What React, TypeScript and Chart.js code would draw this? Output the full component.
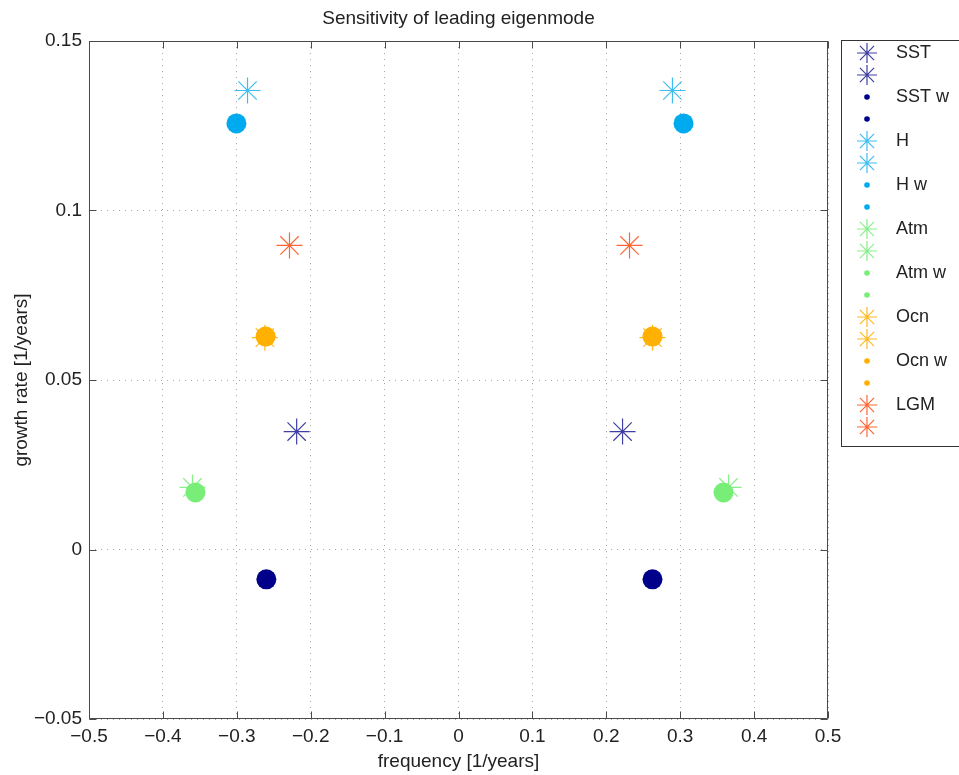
import React, { useEffect, useRef } from 'react';
import { Chart, registerables } from 'chart.js';

Chart.register(...registerables);

const chartTitle = 'Sensitivity of leading eigenmode';
const xAxisTitle = 'frequency [1/years]';
const yAxisTitle = 'growth rate [1/years]';

const seriesLabels = ['SST', 'SST w', 'H', 'H w', 'Atm', 'Atm w', 'Ocn', 'Ocn w', 'LGM'];
const seriesMarkers = ['star', 'circle', 'star', 'circle', 'star', 'circle', 'star', 'circle', 'star'];
const seriesColors = ['#3f3fa3', '#00008a', '#3dbdf2', '#00aaef', '#88ef88', '#78ee78', '#ffb81f', '#ffb000', '#ff6633'];

// negative-frequency member of each eigenvalue pair
const freqNeg = [-0.219, -0.26, -0.2855, -0.3005, -0.36, -0.356, -0.262, -0.261, -0.2287];
const growthNeg = [0.0348, -0.0088, 0.1354, 0.1257, 0.0183, 0.0168, 0.0625, 0.0628, 0.0897];
// positive-frequency member of each eigenvalue pair
const freqPos = [0.222, 0.2625, 0.2895, 0.3045, 0.3654, 0.3586, 0.2625, 0.2625, 0.2314];
const growthPos = [0.0348, -0.0088, 0.1354, 0.1257, 0.0183, 0.0168, 0.0625, 0.0628, 0.0897];

const xTickValues = [-0.5, -0.4, -0.3, -0.2, -0.1, 0, 0.1, 0.2, 0.3, 0.4, 0.5];
const xTickLabels = ['\u22120.5', '\u22120.4', '\u22120.3', '\u22120.2', '\u22120.1', '0', '0.1', '0.2', '0.3', '0.4', '0.5'];
const yTickValues = [-0.05, 0, 0.05, 0.1, 0.15];
const yTickLabels = ['\u22120.05', '0', '0.05', '0.1', '0.15'];

const FONT = "'Liberation Sans', Arial, Helvetica, sans-serif";
const TEXT = '#222';

function drawMarker(ctx: CanvasRenderingContext2D, style: string, color: string, x: number, y: number, r: number) {
  ctx.save();
  if (style === 'star') {
    ctx.strokeStyle = color;
    ctx.lineWidth = 1.2;
    ctx.beginPath();
    for (let k = 0; k < 4; k++) {
      const a = (k * Math.PI) / 4;
      ctx.moveTo(x - Math.cos(a) * r, y - Math.sin(a) * r);
      ctx.lineTo(x + Math.cos(a) * r, y + Math.sin(a) * r);
    }
    ctx.stroke();
  } else {
    ctx.fillStyle = color;
    ctx.beginPath();
    ctx.arc(x, y, r, 0, Math.PI * 2);
    ctx.fill();
  }
  ctx.restore();
}

const framePlugin = {
  id: 'frameTicks',
  afterDraw(chart: any) {
    const { ctx, chartArea } = chart;
    const { left, right, top, bottom } = chartArea;
    const xs = chart.scales.x;
    const ys = chart.scales.y;
    ctx.save();
    ctx.strokeStyle = '#4a4a4a';
    ctx.lineWidth = 1;
    const L = Math.round(left) + 0.5;
    const R = Math.round(right) - 0.5;
    const T = Math.round(top) + 0.5;
    const B = Math.round(bottom) - 0.5;
    ctx.beginPath();
    ctx.rect(L, T, R - L, B - T);
    ctx.stroke();
    const tl = 7;
    ctx.beginPath();
    xTickValues.forEach((v) => {
      const px = Math.round(xs.getPixelForValue(v)) + 0.5;
      ctx.moveTo(px, B);
      ctx.lineTo(px, B - tl);
      ctx.moveTo(px, T);
      ctx.lineTo(px, T + tl);
    });
    yTickValues.forEach((v) => {
      const py = Math.round(ys.getPixelForValue(v)) + 0.5;
      ctx.moveTo(L, py);
      ctx.lineTo(L + tl, py);
      ctx.moveTo(R, py);
      ctx.lineTo(R - tl, py);
    });
    ctx.stroke();

    // legend
    const boxL = 841.5;
    const boxT = 40.5;
    const boxW = 140;
    const boxH = 406;
    ctx.fillStyle = '#fff';
    ctx.fillRect(boxL, boxT, boxW, boxH);
    ctx.strokeStyle = '#333';
    ctx.strokeRect(boxL, boxT, boxW, boxH);
    ctx.font = `18px ${FONT}`;
    ctx.textBaseline = 'middle';
    ctx.textAlign = 'left';
    ctx.fillStyle = TEXT;
    chart.data.datasets.forEach((ds: any, i: number) => {
      const rowY = 53 + 22 * i;
      const si = Math.floor(i / 2);
      const style = seriesMarkers[si];
      drawMarker(ctx, style, seriesColors[si], 867, rowY, style === 'star' ? 10 : 2.8);
      if (ds.label) {
        ctx.fillStyle = TEXT;
        ctx.fillText(ds.label, 896, rowY);
      }
    });
    ctx.restore();
  },
};

export default function App() {
  const canvasRef = useRef<HTMLCanvasElement | null>(null);

  useEffect(() => {
    const canvas = canvasRef.current;
    if (!canvas) return;
    const datasets: any[] = [];
    seriesLabels.forEach((label, i) => {
      const style = seriesMarkers[i];
      const common = {
        showLine: false,
        pointStyle: style,
        pointRadius: style === 'star' ? 13 : 10,
        pointHoverRadius: style === 'star' ? 13 : 10,
        borderColor: seriesColors[i],
        backgroundColor: seriesColors[i],
        pointBorderColor: seriesColors[i],
        pointBackgroundColor: seriesColors[i],
        pointBorderWidth: style === 'star' ? 1.2 : 0,
      };
      datasets.push({ ...common, label, data: [{ x: freqNeg[i], y: growthNeg[i] }] });
      datasets.push({ ...common, label: '', data: [{ x: freqPos[i], y: growthPos[i] }] });
    });
    datasets.forEach((d, idx) => (d.order = -idx));

    const chart = new Chart(canvas, {
      type: 'scatter',
      data: { datasets },
      options: {
        animation: false,
        responsive: true,
        maintainAspectRatio: false,
        layout: { padding: { left: 0, right: 42, top: 0, bottom: 0 } },
        plugins: {
          legend: { display: false },
          tooltip: { enabled: false },
          title: {
            display: true,
            text: chartTitle,
            color: TEXT,
            font: { family: FONT, size: 19, weight: 'normal' },
            padding: { top: 7, bottom: 11.2 },
          },
        },
        scales: {
          x: {
            type: 'linear',
            min: -0.5,
            max: 0.5,
            afterBuildTicks: (scale: any) => {
              scale.ticks = xTickValues.map((v) => ({ value: v }));
            },
            afterFit: (scale: any) => {
              scale.height = 56;
            },
            ticks: {
              padding: 6,
              color: TEXT,
              font: { family: FONT, size: 19 },
              maxRotation: 0,
              autoSkip: false,
              callback: (v: any) => {
                const k = xTickValues.findIndex((t) => Math.abs(t - v) < 1e-9);
                return k >= 0 ? xTickLabels[k] : '';
              },
            },
            grid: { color: '#a8a8a8', lineWidth: 1, drawTicks: false },
            border: { display: false, dash: [1, 5] },
            title: {
              display: true,
              text: xAxisTitle,
              color: TEXT,
              font: { family: FONT, size: 19 },
              padding: { top: 0, bottom: 2 },
            },
          },
          y: {
            type: 'linear',
            min: -0.05,
            max: 0.15,
            afterBuildTicks: (scale: any) => {
              scale.ticks = yTickValues.map((v) => ({ value: v }));
            },
            afterFit: (scale: any) => {
              scale.width = 89;
            },
            ticks: {
              padding: 7,
              color: TEXT,
              font: { family: FONT, size: 19 },
              autoSkip: false,
              callback: (v: any) => {
                const k = yTickValues.findIndex((t) => Math.abs(t - v) < 1e-9);
                return k >= 0 ? yTickLabels[k] : '';
              },
            },
            grid: { color: '#a8a8a8', lineWidth: 1, drawTicks: false },
            border: { display: false, dash: [1, 5] },
            title: {
              display: true,
              text: yAxisTitle,
              color: TEXT,
              font: { family: FONT, size: 19 },
              padding: { top: 10, bottom: 0 },
            },
          },
          // empty right-hand band that holds the legend (keeps the title centred on the plot)
          yLegendSpace: {
            type: 'linear',
            position: 'right',
            min: -0.05,
            max: 0.15,
            display: true,
            grid: { display: false },
            border: { display: false },
            ticks: { display: false },
            afterFit: (scale: any) => {
              scale.width = 89;
            },
          },
        },
      } as any,
      plugins: [framePlugin],
    });
    return () => chart.destroy();
  }, []);

  return (
    <div style={{ position: 'absolute', left: 0, top: 0, width: 959, height: 775, background: '#fff' }}>
      <canvas ref={canvasRef} />
    </div>
  );
}
